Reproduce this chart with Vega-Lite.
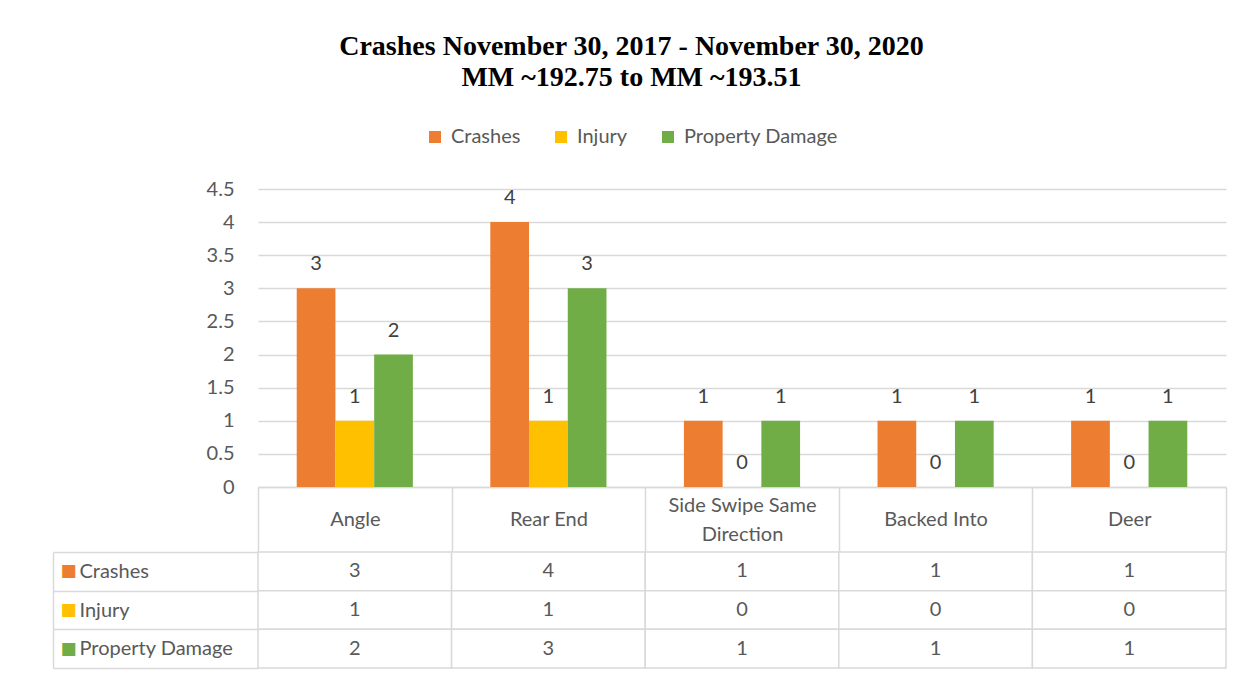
{
  "$schema": "https://vega.github.io/schema/vega-lite/v6.json",
  "padding": {"left": 52, "top": 33, "right": 10, "bottom": 5},
  "background": "white",
  "datasets": {
    "crashes": [
      {"category": "Angle", "series": "Crashes", "value": 3},
      {"category": "Angle", "series": "Injury", "value": 1},
      {"category": "Angle", "series": "Property Damage", "value": 2},
      {"category": "Rear End", "series": "Crashes", "value": 4},
      {"category": "Rear End", "series": "Injury", "value": 1},
      {"category": "Rear End", "series": "Property Damage", "value": 3},
      {"category": "Side Swipe Same Direction", "series": "Crashes", "value": 1},
      {"category": "Side Swipe Same Direction", "series": "Injury", "value": 0},
      {"category": "Side Swipe Same Direction", "series": "Property Damage", "value": 1},
      {"category": "Backed Into", "series": "Crashes", "value": 1},
      {"category": "Backed Into", "series": "Injury", "value": 0},
      {"category": "Backed Into", "series": "Property Damage", "value": 1},
      {"category": "Deer", "series": "Crashes", "value": 1},
      {"category": "Deer", "series": "Injury", "value": 0},
      {"category": "Deer", "series": "Property Damage", "value": 1}
    ]
  },
  "title": {
    "text": ["Crashes November 30, 2017 - November 30, 2020", "MM ~192.75 to MM ~193.51"],
    "font": "Liberation Serif",
    "fontSize": 28,
    "fontWeight": "bold",
    "color": "#000000",
    "lineHeight": 31,
    "anchor": "middle",
    "dx": -8,
    "offset": 35
  },
  "spacing": -12,
  "resolve": {"scale": {"color": "independent"}, "legend": {"color": "independent"}},
  "vconcat": [
    {
      "width": 968,
      "height": 298,
      "data": {"name": "crashes"},
      "encoding": {
        "x": {
          "field": "category",
          "type": "nominal",
          "sort": null,
          "title": null,
          "scale": {"paddingInner": 0, "paddingOuter": 0},
          "axis": {
            "orient": "bottom",
            "labelAngle": 0,
            "domain": true,
            "domainColor": "#d9d9d9",
            "domainWidth": 1.5,
            "ticks": true,
            "tickBand": "extent",
            "tickSize": 64,
            "tickColor": "#d9d9d9",
            "tickWidth": 1.5,
            "minExtent": 64,
            "maxExtent": 64,
            "labelBaseline": "middle",
            "labelPadding": {"condition": {"test": "datum.value == 'Side Swipe Same Direction'", "value": -46}, "value": -32},
            "labelFont": "Lato",
            "labelFontSize": 20,
            "labelColor": "#595959",
            "labelLineHeight": 29,
            "labelLimit": 0,
            "labelExpr": "datum.value == 'Side Swipe Same Direction' ? ['Side Swipe Same', 'Direction'] : datum.value"
          }
        },
        "xOffset": {
          "field": "series",
          "type": "nominal",
          "sort": ["Crashes", "Injury", "Property Damage"],
          "scale": {"paddingInner": 0, "paddingOuter": 1}
        },
        "y": {
          "field": "value",
          "type": "quantitative",
          "title": null,
          "scale": {"domain": [0, 4.5], "nice": false},
          "axis": {
            "values": [0, 0.5, 1, 1.5, 2, 2.5, 3, 3.5, 4, 4.5],
            "format": "~g",
            "domain": false,
            "ticks": false,
            "grid": true,
            "gridColor": "#d9d9d9",
            "gridWidth": 1.5,
            "labelPadding": 24,
            "labelFont": "Lato",
            "labelFontSize": 20,
            "labelColor": "#595959",
            "minExtent": 205
          }
        }
      },
      "layer": [
        {
          "mark": {"type": "bar"},
          "encoding": {
            "color": {
              "field": "series",
              "type": "nominal",
              "sort": ["Crashes", "Injury", "Property Damage"],
              "scale": {"domain": ["Crashes", "Injury", "Property Damage"], "range": ["#ED7D31", "#FFC000", "#70AD47"]},
              "legend": {
                "orient": "none",
                "legendX": 167,
                "legendY": -62,
                "direction": "horizontal",
                "title": null,
                "symbolType": "square",
                "symbolSize": 144,
                "symbolStrokeWidth": 0,
                "labelFont": "Lato",
                "labelFontSize": 20,
                "labelColor": "#595959",
                "labelOffset": 6,
                "columnPadding": 30,
                "labelLimit": 0
              }
            }
          }
        },
        {
          "mark": {"type": "text", "baseline": "alphabetic", "dy": -18, "font": "Lato", "fontSize": 20, "color": "#404040"},
          "encoding": {"text": {"field": "value", "type": "quantitative"}}
        }
      ]
    },
    {
      "width": 968,
      "height": 116,
      "data": {"name": "crashes"},
      "encoding": {
        "x": {
          "field": "category",
          "type": "nominal",
          "sort": null,
          "title": null,
          "scale": {"paddingInner": 0, "paddingOuter": 0},
          "axis": null
        },
        "y": {
          "field": "series",
          "type": "nominal",
          "sort": ["Crashes", "Injury", "Property Damage"],
          "title": null,
          "scale": {"paddingInner": 0, "paddingOuter": 0}
        }
      },
      "resolve": {"axis": {"y": "independent"}},
      "layer": [
        {
          "mark": {"type": "rect", "fill": "white", "stroke": "#d9d9d9", "strokeWidth": 1.5},
          "encoding": {
            "y": {
              "field": "series",
              "type": "nominal",
              "sort": ["Crashes", "Injury", "Property Damage"],
              "title": null,
              "axis": {
                "orient": "left",
                "domain": false,
                "ticks": true,
                "tickBand": "extent",
                "tickSize": 205,
                "tickColor": "#d9d9d9",
                "tickWidth": 1.5,
                "labelAlign": "left",
                "labelBaseline": "middle",
                "labelPadding": -26,
                "labelFont": "Lato",
                "labelFontSize": 20,
                "labelColor": "#595959",
                "labelLimit": 0
              }
            }
          }
        },
        {
          "mark": {"type": "text", "font": "Lato", "fontSize": 20, "color": "#595959"},
          "encoding": {
            "text": {"field": "value", "type": "quantitative"},
            "y": {
              "field": "series",
              "type": "nominal",
              "sort": ["Crashes", "Injury", "Property Damage"],
              "title": null,
              "axis": {
                "orient": "left",
                "offset": 205,
                "domain": true,
                "domainColor": "#d9d9d9",
                "domainWidth": 1.5,
                "ticks": false,
                "labelAlign": "left",
                "labelBaseline": "middle",
                "labelPadding": -7,
                "labelExpr": "'■'",
                "labelFont": "DejaVu Sans",
                "labelFontSize": 17,
                "labelColor": {
                  "condition": [
                    {"test": "datum.value == 'Crashes'", "value": "#ED7D31"},
                    {"test": "datum.value == 'Injury'", "value": "#FFC000"}
                  ],
                  "value": "#70AD47"
                }
              }
            }
          }
        }
      ]
    }
  ],
  "config": {
    "view": {"stroke": null},
    "axis": {"labelOverlap": false}
  }
}
